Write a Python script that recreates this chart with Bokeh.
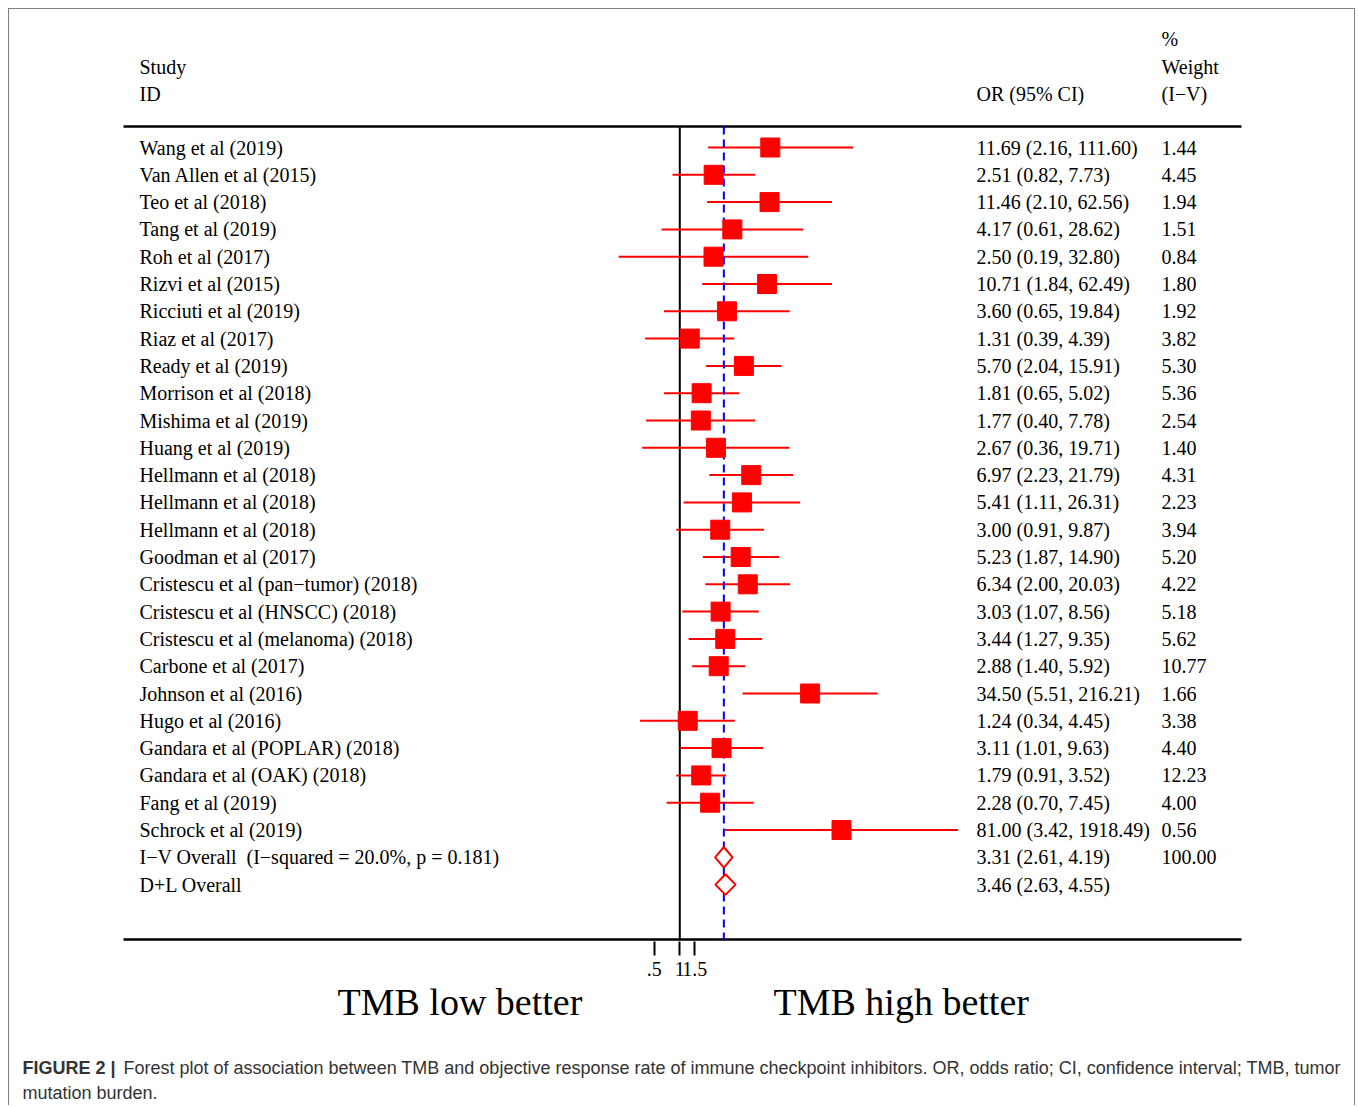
import numpy as np
from bokeh.plotting import figure
from bokeh.layouts import column
from bokeh.models import Range1d, LinearScale, FixedTicker, CustomJSTickFormatter, ColumnDataSource
from bokeh.embed import file_html
from bokeh.resources import INLINE
from bokeh.core.properties import value

# ---------------- data ----------------
studies = [
    "Wang et al (2019)", "Van Allen et al (2015)", "Teo et al (2018)", "Tang et al (2019)",
    "Roh et al (2017)", "Rizvi et al (2015)", "Ricciuti et al (2019)", "Riaz et al (2017)",
    "Ready et al (2019)", "Morrison et al (2018)", "Mishima et al (2019)", "Huang et al (2019)",
    "Hellmann et al (2018)", "Hellmann et al (2018)", "Hellmann et al (2018)", "Goodman et al (2017)",
    "Cristescu et al (pan\u2212tumor) (2018)", "Cristescu et al (HNSCC) (2018)",
    "Cristescu et al (melanoma) (2018)", "Carbone et al (2017)", "Johnson et al (2016)",
    "Hugo et al (2016)", "Gandara et al (POPLAR) (2018)", "Gandara et al (OAK) (2018)",
    "Fang et al (2019)", "Schrock et al (2019)",
]
odds = [11.69, 2.51, 11.46, 4.17, 2.50, 10.71, 3.60, 1.31, 5.70, 1.81, 1.77, 2.67, 6.97,
        5.41, 3.00, 5.23, 6.34, 3.03, 3.44, 2.88, 34.50, 1.24, 3.11, 1.79, 2.28, 81.00]
ci_low = [2.16, 0.82, 2.10, 0.61, 0.19, 1.84, 0.65, 0.39, 2.04, 0.65, 0.40, 0.36, 2.23,
          1.11, 0.91, 1.87, 2.00, 1.07, 1.27, 1.40, 5.51, 0.34, 1.01, 0.91, 0.70, 3.42]
ci_high = [111.60, 7.73, 62.56, 28.62, 32.80, 62.49, 19.84, 4.39, 15.91, 5.02, 7.78, 19.71,
           21.79, 26.31, 9.87, 14.90, 20.03, 8.56, 9.35, 5.92, 216.21, 4.45, 9.63, 3.52,
           7.45, 1918.49]
weights = [1.44, 4.45, 1.94, 1.51, 0.84, 1.80, 1.92, 3.82, 5.30, 5.36, 2.54, 1.40, 4.31,
           2.23, 3.94, 5.20, 4.22, 5.18, 5.62, 10.77, 1.66, 3.38, 4.40, 12.23, 4.00, 0.56]

overall_labels = ["I\u2212V Overall\u00a0 (I\u2212squared = 20.0%, p = 0.181)", "D+L Overall"]
overall_or = [3.31, 3.46]
overall_low = [2.61, 2.63]
overall_high = [4.19, 4.55]
overall_weight = ["100.00", ""]

null_value = 1.0
tick_vals = [0.5, 1.0, 1.5]
tick_labels = [".5", "1", "1.5"]

header_left = ["Study", "ID"]
header_mid = ["OR (95% CI)"]
header_right = ["%", "Weight", "(I\u2212V)"]
side_labels = ["TMB low better", "TMB high better"]
caption_bold = "FIGURE 2 |"
caption_text = ["Forest plot of association between TMB and objective response rate of immune checkpoint inhibitors. OR, odds ratio; CI, confidence interval; TMB, tumor",
                "mutation burden."]

# ---------------- layout constants (page pixels) ----------------
CL, CT = 9, 9                        # canvas left / top on page (after 8px margin + 1px border)
W = 1347
SPLIT = 980                          # page y where the lower (text) figure starts
H1 = SPLIT - CT
H2 = 1106 - SPLIT
RL, RR = 123, 1241                   # horizontal extent of the rules
FT, FB = 16, 941                     # frame top / bottom on page
TOP_RULE, BOT_RULE = 126, 939
X1, PX_PER_LN = 679.3, 36.8          # page x of OR=1 and px per ln unit
ROW0, ROWH = 147.0, 27.3             # first row centre and row step
BORDER = "1px solid #808080"

x_start = float(np.exp((CL - X1) / PX_PER_LN))
x_end = float(np.exp((CL + W - X1) / PX_PER_LN))
y_start = (FB - ROW0) / ROWH
y_end = (FT - ROW0) / ROWH

p = figure(width=W, height=H1, x_axis_type="log", y_axis_type=None,
           x_range=Range1d(x_start, x_end), y_range=Range1d(y_start, y_end),
           output_backend="svg", toolbar_location=None, title=None,
           min_border_left=0, min_border_right=0,
           min_border_top=FT - CT, min_border_bottom=SPLIT - FB)
p.styles = {"border-top": BORDER, "border-left": BORDER, "border-right": BORDER}
p.outline_line_color = None
p.xgrid.visible = False
p.ygrid.visible = False
p.background_fill_color = "white"
p.border_fill_color = "white"

p.extra_x_ranges = {"px": Range1d(CL, CL + W)}
p.extra_x_scales = {"px": LinearScale()}
p.extra_y_ranges = {"py": Range1d(FB, FT)}
p.extra_y_scales = {"py": LinearScale()}

# axis (its line is replaced by the bottom rule, which is shorter than the frame)
ax = p.xaxis[0]
ax.ticker = FixedTicker(ticks=tick_vals, minor_ticks=[])
ax.formatter = CustomJSTickFormatter(args=dict(vals=tick_vals, labs=tick_labels), code="""
for (let i = 0; i < vals.length; i++) { if (Math.abs(vals[i] - tick) < 1e-9) return labs[i]; }
return '';
""")
ax.axis_line_color = None
ax.major_tick_line_width = 2
ax.major_tick_line_color = "black"
ax.major_tick_out = 14
ax.major_tick_in = 0
ax.minor_tick_line_color = None
ax.major_label_standoff = 6
ax.major_label_text_font = "Liberation Serif"
ax.major_label_text_font_size = "20px"
ax.major_label_text_color = "black"

# top and bottom rules
p.segment(x0=[RL, RL], x1=[RR, RR], y0=[TOP_RULE, BOT_RULE], y1=[TOP_RULE, BOT_RULE],
          x_range_name="px", y_range_name="py", line_color="black", line_width=2.5)

# null line
p.segment(x0=[null_value], x1=[null_value], y0=[TOP_RULE], y1=[BOT_RULE], y_range_name="py",
          line_color="black", line_width=2)

rows = list(range(len(studies)))
src = ColumnDataSource(dict(y=rows, or_=odds, lo=ci_low, hi=ci_high,
                            name=studies,
                            ci=[f"{o:.2f} ({l:.2f}, {h:.2f})" for o, l, h in zip(odds, ci_low, ci_high)],
                            w=[f"{w:.2f}" for w in weights]))

p.segment(x0="lo", x1="hi", y0="y", y1="y", source=src, line_color="red", line_width=2)

# overall dashed line
p.segment(x0=[overall_or[0]], x1=[overall_or[0]], y0=[TOP_RULE], y1=[BOT_RULE], y_range_name="py",
          line_color="blue", line_width=2, line_dash="8 5")

p.scatter(x="or_", y="y", source=src, marker="square", size=19, fill_color="red", line_color="red")

# diamonds
orows = [len(studies) + i for i in range(len(overall_labels))]
dh = 10.3 / ROWH
xs = [[l, o, h, o] for o, l, h in zip(overall_or, overall_low, overall_high)]
ys = [[r, r - dh, r, r + dh] for r in orows]
p.patches(xs=xs, ys=ys, fill_color="white", line_color="red", line_width=2)

font = value("Liberation Serif")
txt = dict(text_font=font, text_font_size="20px", text_baseline="middle", text_align="left",
           text_color="black")
p.text(x=139, y="y", text="name", source=src, x_range_name="px", **txt)
p.text(x=976, y="y", text="ci", source=src, x_range_name="px", **txt)
p.text(x=1161, y="y", text="w", source=src, x_range_name="px", **txt)

osrc = ColumnDataSource(dict(y=orows, name=overall_labels,
                             ci=[f"{o:.2f} ({l:.2f}, {h:.2f})" for o, l, h in zip(overall_or, overall_low, overall_high)],
                             w=overall_weight))
p.text(x=139, y="y", text="name", source=osrc, x_range_name="px", **txt)
p.text(x=976, y="y", text="ci", source=osrc, x_range_name="px", **txt)
p.text(x=1161, y="y", text="w", source=osrc, x_range_name="px", **txt)

# headers
p.text(x=[139, 139], y=[66, 93], text=header_left, x_range_name="px", y_range_name="py", **txt)
p.text(x=[976], y=[93], text=header_mid, x_range_name="px", y_range_name="py", **txt)
p.text(x=[1161, 1161, 1161], y=[38, 66, 93], text=header_right, x_range_name="px", y_range_name="py", **txt)

# ---------------- lower text panel ----------------
q = figure(width=W, height=H2, x_axis_type=None, y_axis_type=None,
           x_range=Range1d(CL, CL + W), y_range=Range1d(SPLIT + H2, SPLIT),
           output_backend="svg", toolbar_location=None, title=None,
           min_border=0, min_border_left=0, min_border_right=0, min_border_top=0, min_border_bottom=0)
q.styles = {"border-left": BORDER, "border-right": BORDER}
q.outline_line_color = None
q.xgrid.visible = False
q.ygrid.visible = False
q.background_fill_color = "white"
q.border_fill_color = "white"

q.text(x=[337, 773], y=[1002, 1002], text=side_labels, text_font=font, text_font_size="38px",
       text_baseline="middle", text_align="left", text_color="black")

cap = dict(text_font=value("Liberation Sans"), text_font_size="18px", text_baseline="middle",
           text_align="left", text_color="#333333")
q.text(x=[22], y=[1068], text=[caption_bold], text_font_style="bold", **cap)
q.text(x=[123, 22], y=[1068, 1093], text=caption_text, **cap)

layout = column(p, q, margin=(8, 0, 0, 8), spacing=0)
open("out.html", "w").write(file_html(layout, INLINE))
